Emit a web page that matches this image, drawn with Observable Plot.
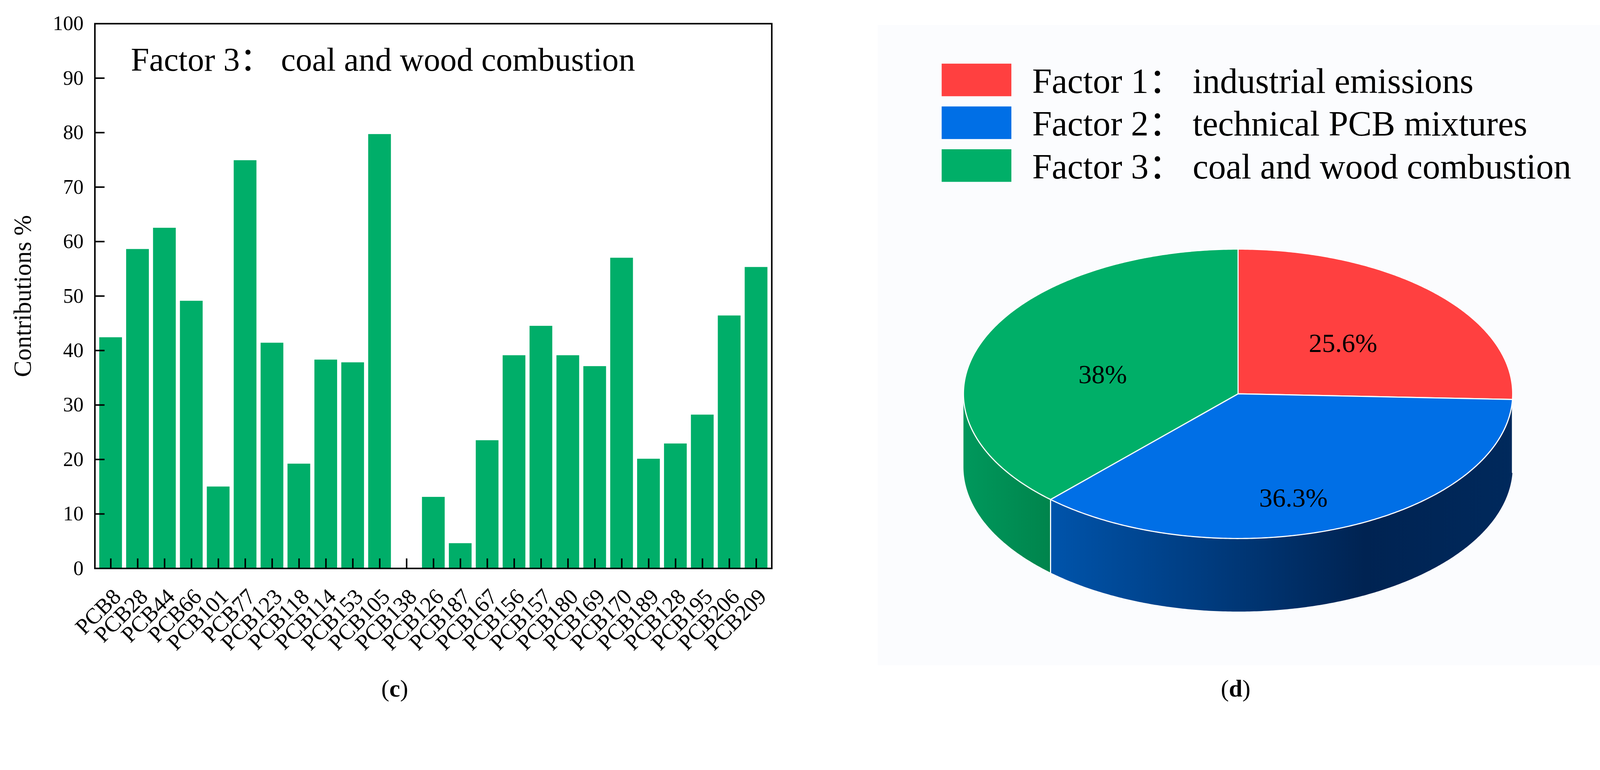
<!DOCTYPE html>
<html><head><meta charset="utf-8">
<script src="https://cdn.jsdelivr.net/npm/d3@7"></script>
<script src="https://cdn.jsdelivr.net/npm/@observablehq/plot@0.6"></script>
<style>
html,body{margin:0;padding:0;background:#fff;overflow:hidden;}
#root{position:relative;width:4224px;height:1971px;overflow:hidden;font-family:"Liberation Serif","Noto Sans CJK SC",serif;color:#000;transform-origin:0 0;}
.abs{position:absolute;}
.leg-text{position:absolute;font-size:93px;line-height:93px;white-space:pre;}
.sw{position:absolute;width:184px;height:86px;}
.cap{position:absolute;font-size:64px;line-height:64px;text-align:center;}
</style></head><body><div id="root"></div>
<script>
// ---- data ----
const congeners = ["PCB8","PCB28","PCB44","PCB66","PCB101","PCB77","PCB123","PCB118","PCB114","PCB153","PCB105","PCB138","PCB126","PCB187","PCB167","PCB156","PCB157","PCB180","PCB169","PCB170","PCB189","PCB128","PCB195","PCB206","PCB209"];
const factor3 = [42.4,58.6,62.5,49.1,15.0,74.9,41.4,19.2,38.3,37.8,79.7,0,13.1,4.6,23.5,39.1,44.5,39.1,37.1,57.0,20.1,22.9,28.2,46.4,55.3];
const yTicks = [0,10,20,30,40,50,60,70,80,90,100];
const barTitle = "Factor 3： coal and wood combustion";
const yLabel = "Contributions %";
const factorNames = ["Factor 1： industrial emissions","Factor 2： technical PCB mixtures","Factor 3： coal and wood combustion"];
const shares = [25.6, 36.3, 38];
const shareLabels = ["25.6%","36.3%","38%"];
const topColors = ["#ff4040","#006fe6","#00af68"];
const sideFills = ["#c72e2e","url(#sideBlue)","url(#sideGreen)"];

const FONT = "Liberation Serif, Noto Sans CJK SC, serif";
const root = document.getElementById("root");
// lay the 4224x1971 design onto whatever CSS viewport the window gives
const fit = window.innerWidth / 4224;
if (fit > 0 && Math.abs(fit - 1) > 0.001) root.style.transform = `scale(${fit})`;

// ---- bar chart (c) ----
const barData = congeners.map((c,i)=>({congener:c, value:factor3[i]}));
const bar = Plot.plot({
  width: 2100, height: 1720,
  marginLeft: 250, marginRight: 63, marginTop: 62, marginBottom: 220,
  style: {fontFamily:FONT, fontSize:"56px", color:"#000", background:"transparent", overflow:"visible"},
  x: {domain: congeners, paddingInner: 0.16, paddingOuter: 0.08, axis: null},
  y: {domain: [0,100]},
  marks: [
    Plot.barY(barData, {x:"congener", y:"value", fill:"#00ae69"}),
    Plot.ruleX(barData, {x:"congener", y1:0, y2:1.8, stroke:"#000", strokeWidth:4}),
    Plot.axisY({ticks:yTicks, tickSize:0, tickPadding:30, label:null, fontSize:54}),
    Plot.axisY({ticks:yTicks.filter(t=>t>0&&t<100), tickSize:-26, tickFormat:()=>"", strokeWidth:4, label:null}),
    Plot.text(barData, {x:"congener", y:0, text:"congener", rotate:-45, textAnchor:"end", lineAnchor:"bottom", dx:30, dy:78, fontSize:59}),
    Plot.frame({stroke:"#000", strokeWidth:4}),
    Plot.text([barTitle], {frameAnchor:"top-left", dx:95, dy:62, fontSize:87, textAnchor:"start", lineAnchor:"top"}),
    Plot.text([yLabel], {frameAnchor:"left", dx:-190, rotate:-90, fontSize:65, textAnchor:"middle", lineAnchor:"middle"})
  ]
});
bar.style.position = "absolute"; bar.style.left = "0px"; bar.style.top = "0px";
root.appendChild(bar);

// ---- 3D pie (d) ----
const total = d3.sum(shares);
let acc = 0;
const slices = shares.map((v,i)=>{ const a0 = acc/total*360; acc += v; const a1 = acc/total*360; return {i, a0, a1, mid:(a0+a1)/2}; });
const depth = 0.505;
const rad = d => d*Math.PI/180;
const pt = (a, off=0) => ({x: Math.sin(rad(a)), y: -Math.cos(rad(a)) + off});
function arc(a0, a1, off=0){ const n = Math.max(2, Math.ceil((a1-a0)/0.5)); return d3.range(n+1).map(k=>pt(a0+(a1-a0)*k/n, off)); }
const topPolys = [], sidePolys = [];
slices.forEach(s=>{
  [{x:0,y:0}, ...arc(s.a0, s.a1), {x:0,y:0}].forEach(p=>topPolys.push({...p, id:s.i}));
  const b0 = Math.max(s.a0, 90), b1 = Math.min(s.a1, 270);
  if (b1 > b0) {
    [...arc(b0,b1), ...arc(b0,b1,depth).reverse()].forEach(p=>sidePolys.push({...p, id:s.i}));
  }
});
const seams = [];
slices.forEach(s=>{ if (s.a1>90 && s.a1<270) { seams.push({...pt(s.a1), id:s.i}); seams.push({...pt(s.a1, depth), id:s.i}); } });
const labelPts = slices.map(s=>({x:0.53*Math.sin(rad(s.mid)), y:-0.66*Math.cos(rad(s.mid))+0.11, text:shareLabels[s.i]}));

const pie = Plot.plot({
  width: 2124, height: 1971, margin: 0,
  style: {fontFamily:FONT, color:"#000", background:"transparent"},
  x: {domain:[-1,1], range:[443,1893], axis:null},
  y: {domain:[-1,1], range:[657,1421], axis:null},
  marks: [
    Plot.line(sidePolys, {x:"x", y:"y", z:"id", fill:d=>sideFills[d.id], stroke:"none"}),
    Plot.line(seams, {x:"x", y:"y", z:"id", stroke:"#ffffff", strokeWidth:3}),
    Plot.line(topPolys, {x:"x", y:"y", z:"id", fill:d=>topColors[d.id], stroke:"#ffffff", strokeWidth:3, strokeLinejoin:"round"}),
    Plot.text(labelPts, {x:"x", y:"y", text:"text", fontSize:70, fill:"#000", lineAnchor:"middle"})
  ]
});
d3.select(pie).insert("defs", ":first-child").html(`
  <linearGradient id="sideBlue" x1="0" x2="1" y1="0" y2="0">
    <stop offset="0" stop-color="#0054ab"/><stop offset="0.68" stop-color="#002352"/><stop offset="1" stop-color="#00295c"/>
  </linearGradient>
  <linearGradient id="sideGreen" x1="0" x2="1" y1="0" y2="0">
    <stop offset="0" stop-color="#00985c"/><stop offset="1" stop-color="#00844c"/>
  </linearGradient>`);
pie.style.position = "absolute"; pie.style.left = "2100px"; pie.style.top = "0px";
const bg = document.createElement("div");
bg.className = "abs";
Object.assign(bg.style, {left:"2317px", top:"66px", width:"1907px", height:"1690px", background:"#fbfcfe"});
root.appendChild(bg);
root.appendChild(pie);

// legend
factorNames.forEach((name,i)=>{
  const sw = document.createElement("div"); sw.className = "sw";
  Object.assign(sw.style, {left:"2486px", top:(168+113*i)+"px", background:topColors[i]});
  root.appendChild(sw);
  const t = document.createElement("div"); t.className = "leg-text";
  Object.assign(t.style, {left:"2725px", top:(167+113*i)+"px"});
  t.textContent = name; root.appendChild(t);
});

// panel captions
[["c",0,2084],["d",2300,1924]].forEach(([l,left,w])=>{
  const c = document.createElement("div"); c.className = "cap";
  Object.assign(c.style, {left:left+"px", width:w+"px", top:"1786px"});
  c.innerHTML = `(<b>${l}</b>)`; root.appendChild(c);
});
</script></body></html>
